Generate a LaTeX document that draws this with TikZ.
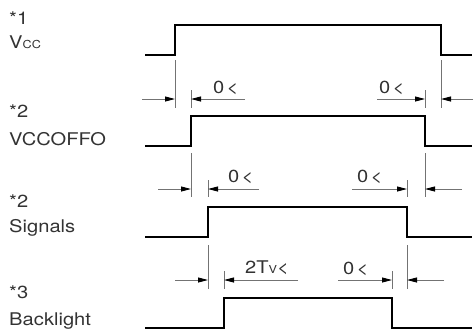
\documentclass[tikz,border=0pt]{standalone}
\usepackage{fontspec}
\setmainfont{TeX Gyre Heros}
\usepackage{tikz}
\usetikzlibrary{arrows.meta}

\begin{document}
\begin{tikzpicture}[
  x=1pt, y=-1pt,
  font=\fontsize{17.5}{17.5}\selectfont,
  wave/.style={line width=1.8pt, black},
  dim/.style={line width=0.9pt, black!55},
  arr/.style={dim, -{Triangle[length=10pt,width=5pt,black]}},
  lbl/.style={anchor=base west, inner sep=0pt, text=black!80, xscale=1.15, transform shape}
]
\useasboundingbox (0,0) rectangle (474,333);

% signal names
\node[lbl] (n1) at (9,24) {*1};
\node[lbl] (vcc) at (9,48) {V{\fontsize{11}{11}\selectfont CC}};
\node[lbl] (n2) at (9,117) {*2};
\node[lbl] (vccoffo) at (9,145) {VCCOFFO};
\node[lbl] (n3) at (9,207) {*2};
\node[lbl] (sig) at (9,232) {Signals};
\node[lbl] (n4) at (9,298) {*3};
\node[lbl] (bl) at (9,325) {Backlight};

% waveforms
\draw[wave] (145,55) -- (175,55) -- (175,25) -- (441,25) -- (441,55) -- (472,55);
\draw[wave] (145,146) -- (191,146) -- (191,116) -- (425,116) -- (425,146) -- (472,146);
\draw[wave] (145,237) -- (208,237) -- (208,207) -- (407,207) -- (407,237) -- (472,237);
\draw[wave] (145,328) -- (224,328) -- (224,298) -- (392,298) -- (392,328) -- (472,328);

% Vcc -> VCCOFFO
\coordinate (d1a) at (175,99);
\coordinate (d1b) at (191,99);
\coordinate (d1c) at (425,99);
\coordinate (d1d) at (441,99);
\draw[dim] (175,60) -- (175,108);
\draw[dim] (191,90) -- (191,108);
\draw[dim] (425,90) -- (425,108);
\draw[dim] (441,60) -- (441,108);
\draw[arr] (142,99) -- (d1a);
\draw[arr] (245,99) -- (d1b);
\draw[arr] (377,99) -- (d1c);
\draw[arr] (473,99) -- (d1d);
\node[lbl] (t1a) at (213,93) {0\kern2pt<};
\node[lbl] (t1b) at (379,93) {0\kern2pt<};

% VCCOFFO -> Signals
\coordinate (d2a) at (191,189);
\coordinate (d2b) at (208,189);
\coordinate (d2c) at (407,189);
\coordinate (d2d) at (425,189);
\draw[dim] (191,153) -- (191,197);
\draw[dim] (208,180) -- (208,197);
\draw[dim] (407,180) -- (407,197);
\draw[dim] (425,153) -- (425,197);
\draw[arr] (158,189) -- (d2a);
\draw[arr] (259,189) -- (d2b);
\draw[arr] (352,189) -- (d2c);
\draw[arr] (462,189) -- (d2d);
\node[lbl] (t2a) at (228,182) {0\kern2pt<};
\node[lbl] (t2b) at (357,182) {0\kern2pt<};

% Signals -> Backlight
\coordinate (d3a) at (208,280);
\coordinate (d3b) at (224,280);
\coordinate (d3c) at (392,280);
\coordinate (d3d) at (407,280);
\draw[dim] (208,245) -- (208,289);
\draw[dim] (224,271) -- (224,289);
\draw[dim] (392,271) -- (392,289);
\draw[dim] (407,245) -- (407,289);
\draw[arr] (175,280) -- (d3a);
\draw[arr] (298,280) -- (d3b);
\draw[arr] (338,280) -- (d3c);
\draw[arr] (444,280) -- (d3d);
\node[lbl] (t3a) at (245,273) {2T{\fontsize{11}{11}\selectfont V}<};
\node[lbl] (t3b) at (343,274) {0\kern2pt<};
\end{tikzpicture}
\end{document}
